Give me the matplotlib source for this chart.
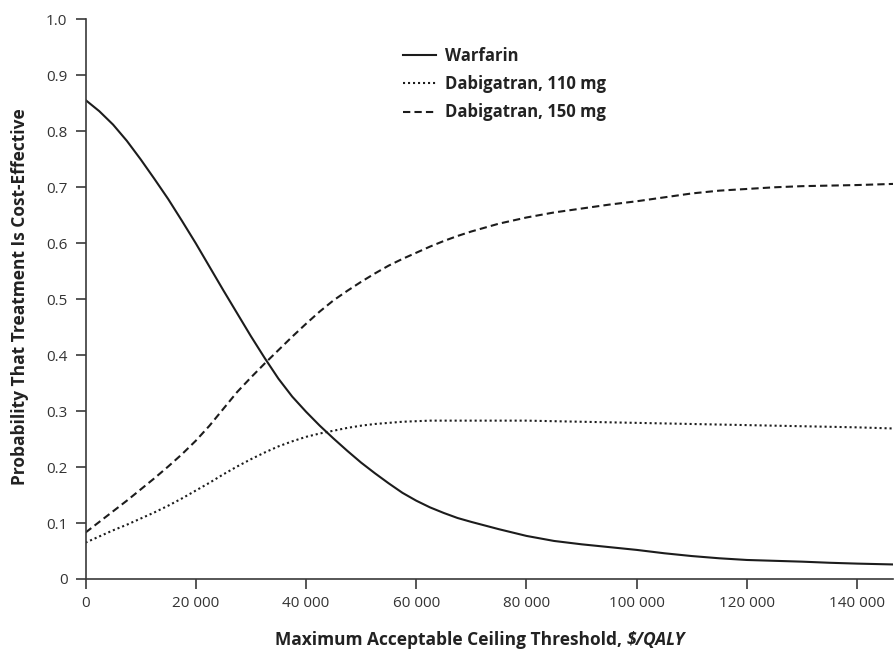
import numpy as np
from matplotlib import pyplot as plt
from matplotlib.ticker import FuncFormatter

plt.rcParams['font.family'] = ['Open Sans', 'DejaVu Sans']

# ceiling threshold ($/QALY)
threshold = [0, 2500, 5000, 7500, 10000, 12500, 15000, 17500, 20000, 22500,
             25000, 27500, 30000, 32500, 35000, 37500, 40000, 42500, 45000, 47500,
             50000, 52500, 55000, 57500, 60000, 62500, 65000, 67500, 70000,
             75000, 80000, 85000, 90000, 95000, 100000, 105000, 110000, 115000,
             120000, 125000, 130000, 135000, 140000, 146500]

warfarin = [0.856, 0.836, 0.812, 0.783, 0.750, 0.715, 0.679, 0.640, 0.600, 0.558,
            0.516, 0.475, 0.434, 0.395, 0.358, 0.326, 0.299, 0.274, 0.251, 0.229,
            0.208, 0.189, 0.171, 0.154, 0.140, 0.128, 0.118, 0.109, 0.102,
            0.089, 0.077, 0.068, 0.062, 0.057, 0.052, 0.046, 0.041, 0.037,
            0.034, 0.0325, 0.031, 0.029, 0.0275, 0.026]

dabi_110 = [0.065, 0.076, 0.087, 0.097, 0.108, 0.119, 0.131, 0.144, 0.158, 0.172,
            0.187, 0.201, 0.214, 0.226, 0.237, 0.246, 0.254, 0.260, 0.265, 0.270,
            0.274, 0.277, 0.279, 0.281, 0.282, 0.283, 0.283, 0.283, 0.283,
            0.283, 0.283, 0.282, 0.281, 0.280, 0.279, 0.278, 0.277, 0.276,
            0.275, 0.274, 0.273, 0.272, 0.271, 0.269]

dabi_150 = [0.083, 0.102, 0.121, 0.140, 0.160, 0.180, 0.201, 0.223, 0.247, 0.274,
            0.304, 0.334, 0.360, 0.385, 0.409, 0.433, 0.456, 0.478, 0.498, 0.515,
            0.531, 0.546, 0.560, 0.572, 0.583, 0.594, 0.604, 0.613, 0.621,
            0.635, 0.646, 0.655, 0.662, 0.669, 0.675, 0.682, 0.689, 0.694,
            0.697, 0.700, 0.702, 0.703, 0.704, 0.706]

x_ticks = [0, 20000, 40000, 60000, 80000, 100000, 120000, 140000]
y_ticks = [0, 0.1, 0.2, 0.3, 0.4, 0.5, 0.6, 0.7, 0.8, 0.9, 1.0]

ink = '#1c1c1c'
axis_col = '#3a3a3a'

fig = plt.figure(figsize=(8.94, 6.52), dpi=100)
ax = fig.add_axes([85.5 / 894, 1 - 579 / 652, (893 - 85.5) / 894, (579 - 19.4) / 652])

ax.plot(threshold, warfarin, color=ink, lw=1.5, label='Warfarin')
ax.plot(threshold, dabi_110, color=ink, lw=1.5, linestyle=(0, (1, 1.4)), label='Dabigatran, 110 mg')
ax.plot(threshold, dabi_150, color=ink, lw=1.5, linestyle=(0, (3.5, 2)), label='Dabigatran, 150 mg')

ax.set_xlim(0, 146500)
ax.set_ylim(0, 1.0)
ax.set_xticks(x_ticks)
ax.set_yticks(y_ticks)
ax.xaxis.set_major_formatter(FuncFormatter(lambda v, p: f'{int(v):,}'.replace(',', ' ')))
ax.yaxis.set_major_formatter(FuncFormatter(lambda v, p: '0' if v == 0 else f'{v:.1f}'))

for s in ['top', 'right']:
    ax.spines[s].set_visible(False)
for s in ['left', 'bottom']:
    ax.spines[s].set_color(axis_col)
    ax.spines[s].set_linewidth(1.2)
ax.tick_params(direction='out', length=7, width=1.2, color=axis_col,
               labelsize=11, labelcolor='#333333')
ax.tick_params(axis='y', pad=6)
ax.tick_params(axis='x', pad=5)

leg = ax.legend(loc='upper left', bbox_to_anchor=(0.393, 0.951), frameon=False,
                borderpad=0, borderaxespad=0, handlelength=2.0, handletextpad=0.55,
                labelspacing=0.62, prop={'weight': 'bold', 'size': 12})
for t in leg.get_texts():
    t.set_color('#222222')

# x label with italic unit part
xl = fig.text(275 / 894, 1 - 645 / 652, 'Maximum Acceptable Ceiling Threshold, ',
              fontsize=12.5, fontweight='bold', color='#222222', ha='left', va='baseline')
ax.annotate('$/QALY', xy=(1, 0), xycoords=xl, va='bottom', ha='left',
            fontsize=12.5, fontweight='bold', fontstyle='italic', color='#222222',
            parse_math=False)

fig.text(20 / 894, 1 - 297 / 652, 'Probability That Treatment Is Cost-Effective',
         rotation=90, fontsize=12.5, fontweight='bold', color='#222222',
         ha='center', va='center')

fig.savefig('out.png', dpi=100)
